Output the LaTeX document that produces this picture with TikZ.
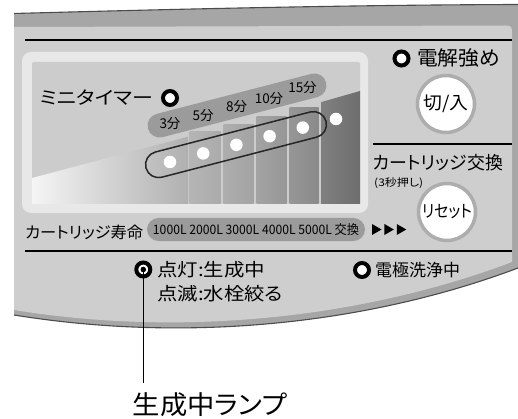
\documentclass[tikz,border=0pt]{standalone}
\usepackage{fontspec}
\usepackage{graphicx}
\setmainfont{Noto Sans CJK JP}[CharacterWidth=AlternateProportional]
\usetikzlibrary{positioning, arrows.meta}

\definecolor{panelbg}{HTML}{CECECE}
\definecolor{rimgray}{HTML}{A6A6A6}
\definecolor{framegray}{HTML}{E8E8E8}
\definecolor{screengray}{HTML}{CCCCCC}
\definecolor{pillgray}{HTML}{9B9B9B}
\definecolor{btnring}{HTML}{ADADAD}

% squeeze a text to a given width, keeping its height
\newcommand{\wfit}[2]{\resizebox{#1}{\height}{#2}}
\newcommand{\fs}[1]{\fontsize{#1}{#1}\selectfont}

\begin{document}
\begin{tikzpicture}[
        x=1pt, y=-1pt,
        txt/.style={inner sep=0pt, anchor=west},
        lamp/.style={circle, draw=black, line width=4pt, fill=white, minimum size=14pt, inner sep=0pt},
        button/.style={circle, draw=btnring, line width=3.5pt, fill=white, minimum size=57pt, inner sep=0pt},
        rule/.style={line width=1.7pt},
        dot/.style={circle, fill=white, minimum size=12.5pt, inner sep=0pt},
        stadium/.style={rectangle, rounded corners=#1, rotate=14.5, inner sep=0pt}
    ]
    \useasboundingbox (0,0) rectangle (518,419);
    \fill[white] (0,0) rectangle (518,419);

    % panel with its rim
    \fill[rimgray] (14,13.5) .. controls (180,9) and (350,5) .. (518,4.5)
        -- (518,268) .. controls (380,320) and (200,345) .. (14,315) -- cycle;
    \fill[panelbg] (14,27) -- (506,25.5) .. controls (510,25.5) and (512,27) .. (512,31)
        -- (512,262) .. controls (380,312) and (200,340) .. (14,310) -- cycle;
    \draw[line width=1.1pt, black!70] (14,13.5) .. controls (180,9) and (350,5) .. (518,4.5);
    \draw[line width=1.1pt, black!70] (518,268) .. controls (380,320) and (200,345) .. (14,315);

    \draw[rule] (25,40) -- (512,40);
    \draw[rule] (373,144) -- (512,144);
    \draw[rule] (25,251) -- (512,251);

    % display
    \fill[framegray, rounded corners=9pt] (22,52) rectangle (368,213);
    \fill[screengray, rounded corners=2pt] (32,62) rectangle (360,204);
    \shade[left color=white!96!black, right color=black!31] (32,178) -- (188,136.7) -- (188,204) -- (32,204) -- cycle;
    \shade[left color=black!29, right color=black!33] (189.5,132) rectangle (220.5,204);
    \shade[left color=black!32, right color=black!36] (223.5,125) rectangle (253.5,204);
    \shade[left color=black!36, right color=black!41] (256.5,117) rectangle (286.5,204);
    \shade[left color=black!41, right color=black!46] (289.5,108) rectangle (318.5,204);
    \shade[left color=black!50, right color=black!57] (321.5,102) -- (360,91) -- (360,204) -- (321.5,204) -- cycle;

    \node[stadium=12pt, fill=pillgray, minimum width=184pt, minimum height=24pt] (steps) at (237,105.5) {};
    \node[stadium=13pt, draw=black!85, line width=1.5pt, minimum width=186pt, minimum height=26pt] (sel) at (236,144.6) {};
    \foreach \i in {1,...,6}
        \node[dot] (d\i) at ({170+(\i-1)*33.2},{162-(\i-1)*8.6}) {};
    \foreach \t/\x/\y [count=\k] in {3分/170/124, 5分/203/116, 8分/236.5/107, 10分/269/99, 15分/302.5/88}
        \node[inner sep=0pt, font=\fs{13.5}] (min\k) at (\x,\y) {\t};

    \node[txt, font=\fs{18}] (timer) at (40,98) {\wfit{113pt}{ミニタイマー}};
    \node[lamp] (timerlamp) at (170,98) {};

    % right column
    \node[lamp] (stronglamp) at (401.5,58.5) {};
    \node[txt, font=\fs{20}] (strong) at (417,58) {\wfit{83pt}{電解強め}};
    \node[button, font=\fs{18}] (onoff) at (446,104) {\wfit{45pt}{切/入}};
    \node[txt, font=\fs{18}] (cart) at (373,162.5) {\wfit{130pt}{カートリッジ交換}};
    \node[txt, font=\fs{10.5}] (hold) at (374,183.5) {\wfit{49pt}{(3秒押し)}};
    \node[button, font=\fs{17}] (reset) at (447,212) {\wfit{50pt}{リセット}};

    % cartridge life
    \node[txt, font=\fs{16}] (life) at (25,232.5) {\wfit{118pt}{カートリッジ寿命}};
    \node[fill=pillgray, rounded corners=11.5pt, minimum width=218pt, minimum height=23pt, inner sep=0pt,
        font=\fs{13}] (lifebar) at (256,229.5) {\wfit{206pt}{1000L 2000L 3000L 4000L 5000L 交換}};
    \foreach \i in {0,1,2}
        \fill[shift={(372+\i*12.4,229.5)}] (0,-5.5) -- (9.5,0) -- (0,5.5) -- cycle;

    % lower row
    \node[lamp] (genlamp) at (143.3,269.5) {};
    \fill (genlamp.center) circle (2.8);
    \node[txt, font=\fs{18}] (lit) at (157,270) {\wfit{108pt}{点灯:生成中}};
    \node[txt, font=\fs{18}] (blink) at (157,294) {\wfit{126pt}{点滅:水栓絞る}};
    \node[lamp] (cleanlamp) at (362,270) {};
    \node[txt, font=\fs{17}] (clean) at (375,270) {\wfit{85pt}{電極洗浄中}};

    \node[inner sep=0pt, font=\fs{26}] (genlabel) at (210,405) {\wfit{154pt}{生成中ランプ}};
    \draw[line width=1.1pt, shorten >=10pt] (genlamp.center) -- (genlamp.center |- genlabel.north);
\end{tikzpicture}
\end{document}
